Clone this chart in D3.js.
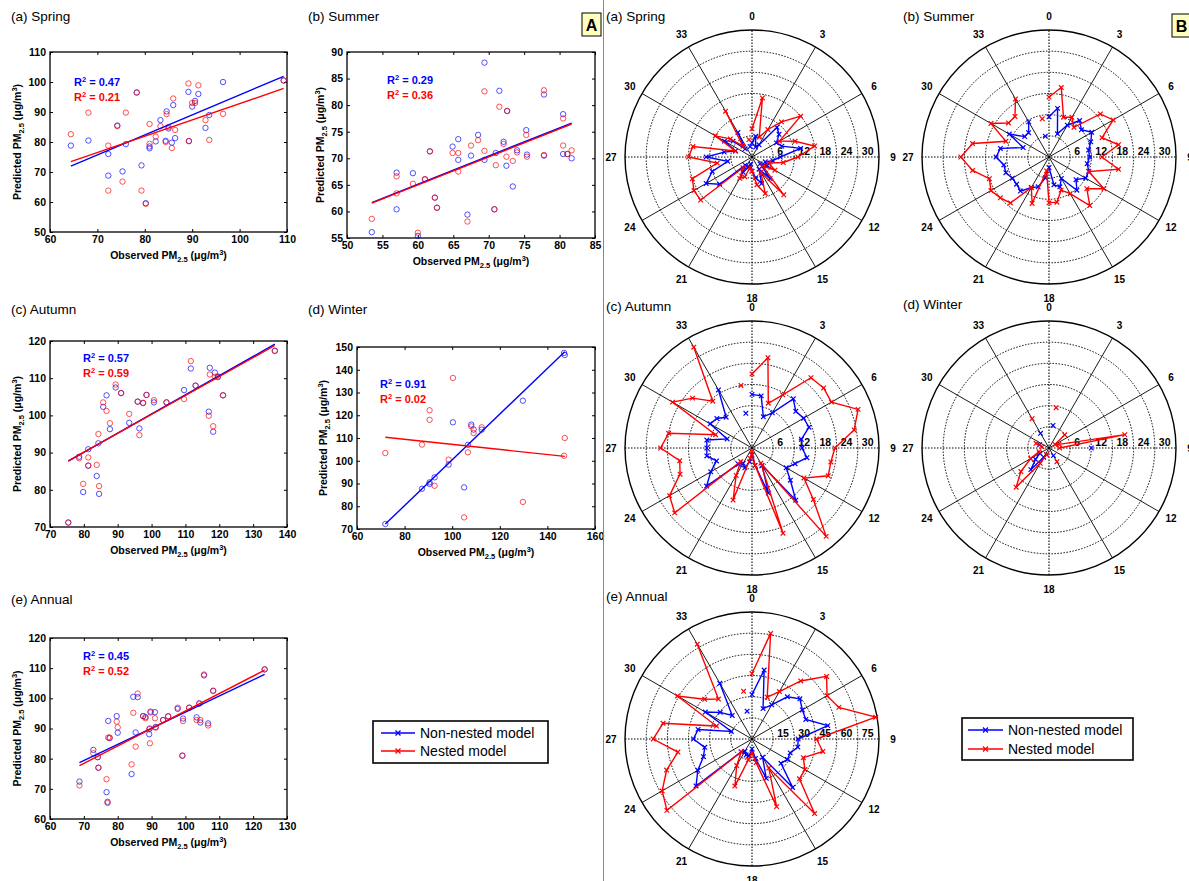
<!DOCTYPE html>
<html><head><meta charset="utf-8">
<script src="https://cdn.jsdelivr.net/npm/d3@7"></script>
<style>body{margin:0;background:#fff}svg{display:block;font-family:"Liberation Sans",Arial,sans-serif}</style>
</head><body>
<svg id="c" width="1189" height="881"></svg>
<script>
// ---------------- DATA ----------------
const seriesNames = ["Non-nested model", "Nested model"];
const seriesColors = ["#0000ff", "#ff0000"];

// Scatter: observed vs predicted PM2.5
const springObs = [64.4,68.1,72.3,72.3,74.2,75.3,78.3,76.0,79.3,80.2,81.0,81.0,82.3,83.3,84.6,84.4,85.0,85.7,86.0,86.4,89.2,89.3,90.0,90.6,91.3,92.8,93.6,96.5,109.3];
const springNonNested = [78.8,80.5,76.0,68.8,85.5,70.2,96.5,79.3,72.2,59.6,77.9,78.5,80.2,87.3,90.2,80.4,84.5,79.8,92.3,81.3,96.7,80.3,91.8,93.7,96.0,84.7,89.0,100.0,100.5];
const springNested = [82.6,89.8,78.8,63.8,85.3,66.8,96.5,89.8,63.8,59.4,86.0,79.4,81.8,85.3,89.3,80.0,85.0,78.0,94.5,84.0,99.5,80.3,93.0,93.0,98.9,87.3,80.7,89.4,100.5];
const springFitNonNested = [0.667, 29.0];
const springFitNested = [0.544, 38.4];
const springR2 = ["0.47", "0.21"];

const summerObs = [53.5,57.0,57.0,59.3,60.0,61.7,62.4,61.0,62.7,64.9,65.7,65.7,67.0,67.5,68.5,69.4,69.4,71.0,71.5,70.8,72.1,72.6,72.5,73.4,74.0,75.3,75.4,77.8,77.8,80.5,80.5,81.1,81.7];
const summerNonNested = [56.1,67.3,60.4,67.2,55.4,71.3,62.6,66.0,60.7,72.2,73.6,69.7,59.4,70.5,74.4,88.0,69.7,71.0,82.7,60.4,73.1,78.9,68.6,64.7,71.5,75.3,70.7,82.0,70.5,78.3,70.8,70.8,70.0];
const summerNested = [58.6,66.6,63.4,65.2,56.0,71.3,62.6,66.1,60.7,71.0,71.0,67.5,58.1,72.4,73.4,82.6,71.4,68.7,79.7,60.4,72.7,78.9,70.3,69.5,71.1,74.4,70.3,82.8,70.6,77.5,72.4,70.8,71.5];
const summerFitNonNested = [0.531, 33.25];
const summerFitNested = [0.528, 33.3];
const summerR2 = ["0.29", "0.36"];

const autumnObs = [75.4,78.6,79.8,81.3,81.3,83.8,84.5,84.3,85.7,86.7,87.7,89.4,91.0,93.4,95.9,96.4,97.5,98.5,100.7,104.4,109.6,111.6,113.0,117.2,116.9,118.2,118.7,119.6,121.1,136.4];
const autumnNonNested = [71.2,88.9,79.4,90.9,86.5,83.7,78.9,92.5,102.3,105.4,96.3,107.5,106.0,98.0,103.7,96.5,103.3,105.5,103.5,103.5,106.8,112.6,108.0,112.8,101.0,95.6,111.5,110.3,105.4,117.4];
const autumnNested = [71.2,88.5,81.6,88.7,86.5,86.7,81.0,95.0,103.5,101.2,97.9,108.3,106.0,100.4,103.7,94.7,103.4,105.5,104.1,103.5,104.4,114.6,108.0,111.0,99.9,97.1,110.4,110.5,105.4,117.3];
const autumnFitNonNested = [0.515, 48.9];
const autumnFitNested = [0.508, 49.5];
const autumnR2 = ["0.57", "0.59"];

const winterObs = [71.9,87.3,90.5,90.5,92.6,98.5,100.3,105.0,106.6,108.0,109.0,112.4,129.7,147.0,147.3];
const winterNonNested = [72.2,87.7,90.5,89.8,92.7,98.3,116.9,88.3,107.0,115.9,113.7,113.7,126.4,147.4,146.5];
const winterNested = [103.4,107.1,122.2,118.0,89.0,100.5,136.4,75.1,103.7,115.1,112.2,114.7,81.9,102.2,110.0];
const winterFitNonNested = [1.005, -0.1];
const winterFitNested = [-0.112, 118.4];
const winterR2 = ["0.91", "0.02"];

const annualObs = [68.7,72.8,74.1,74.3,76.7,77.0,77.2,77.6,79.7,80.0,84.6,85.9,84.1,85.3,87.5,88.2,89.3,89.5,89.7,91.0,91.2,93.4,94.9,97.7,99.1,99.3,101.1,103.3,104.1,104.4,105.5,106.7,108.2,123.4];
const annualNonNested = [72.4,82.9,80.5,77.0,68.9,65.7,92.5,86.8,94.1,88.6,100.5,100.4,74.9,88.7,94.1,93.8,88.1,90.0,95.6,95.4,90.5,92.8,94.0,96.5,81.0,93.3,96.9,93.7,98.3,92.0,107.6,91.7,102.5,109.6];
const annualNested = [71.1,81.8,80.5,77.0,73.2,65.3,87.0,87.0,92.3,90.4,95.2,101.6,78.1,84.0,94.1,93.4,89.8,85.1,95.3,93.4,90.3,92.8,94.1,96.9,81.0,92.5,96.9,92.8,98.3,92.8,107.9,91.0,102.5,109.6];
const annualFitNonNested = [0.535, 41.9];
const annualFitNested = [0.579, 37.9];
const annualR2 = ["0.45", "0.52"];

// Polar: direction index 0..35 (x10 degrees)
const directionLabels = [0,3,6,9,12,15,18,21,24,27,30,33];
const seasonRings = [6,12,18,24,30,36];
const annualRings = [15,30,45,60,75,90];

const springDirNonNested = [4,6,3,4,11,10,8,9,14,8,6,4,5,3,8,4,8,6,4,2,3,5,3,12,15,12,7,13,8,5,9,7,3,8,null,3];
const springDirNested = [8,17,6,9,13,18,9,13,18,13,9,5,7.5,4,14,5,11,8,4,3,6,7,4,19,19,18,10,18,17,5,12,8,4,15,null,5];
const summerDirNonNested = [11.4,14,7,10.4,13.5,12,14,12.6,11.4,11.5,11,12,12,10,12.3,7,9,8,3,6,9,10,12.6,12,12,13,13,15,14,7.8,13,9,9,11.5,null,6];
const summerDirNested = [17,20,12,13,11,19,21,16,20,15,20,12,18,14,18,12,10,13,13,4,14,10,17,18,19,18,22,25,22,13,19,15,15,19,null,11];
const autumnDirNonNested = [15.2,15,9.4,11.5,18.2,16.2,16.9,17.2,14.2,14.2,15.8,13,11.2,14.2,19.3,5.7,13.6,5,2,4,6,5,6,16.8,13.5,10.7,13,12.8,13,7.5,13.7,13,11.4,19,null,10];
const autumnDirNested = [21,26,13.5,17.4,26,26.5,26,32,29.4,23.5,22.7,23,17,22.7,32.7,5,25.7,5,1,3,15.7,9,5,28.6,27,21.7,20.8,25.9,24,11,26,22,17.3,33,null,18];
const winterDirNonNested = [null,6.5,null,null,null,null,null,null,null,12,null,null,null,null,null,2.5,null,null,null,null,2,3,8,5,3,null,null,null,null,2.8,null,null,null,4.8,null,null];
const winterDirNested = [null,11.6,null,null,null,5.8,2,3,21.8,3,null,null,null,null,null,4.5,null,null,null,null,2,5,14.5,10.4,6,3,null,null,2,3.9,null,null,null,9.6,null,null];
const annualDirNonNested = [31.5,49.6,22.9,28,39,44.3,41.2,40.6,54.5,32.7,33,28.8,29,26.8,44.8,15,29.6,14,7,12,12,10,12,51.8,44.3,36.6,34,41.5,38.8,15.6,38.2,29.4,21.8,45.6,null,20];
const annualDirNested = [46.4,76,31.5,38.8,53.7,69,61.4,65.5,89,45.7,51,38.7,43.3,43.9,69,23.8,51,17,10,15,35.5,21.7,12,78.7,73.5,64.4,53.3,70,64,26.8,61,43.8,37,77.6,null,34.3];

// ---------------- DRAWING ----------------
const svg = d3.select("#c");
svg.append("rect").attr("width",1189).attr("height",881).attr("fill","#fff");

function pmLabel(t, prefix) {
  t.append("tspan").text(prefix + " PM");
  t.append("tspan").attr("dy", 3).attr("font-size", 7.5).text("2.5");
  t.append("tspan").attr("dy", -3).text(" (\u03bcg/m");
  t.append("tspan").attr("dy", -4).attr("font-size", 7.5).text("3");
  t.append("tspan").attr("dy", 4).text(")");
}

function scatterPanel(p) {
  const g = svg.append("g");
  const x = d3.scaleLinear().domain(p.xDomain).range([p.left, p.right]);
  const y = d3.scaleLinear().domain(p.yDomain).range([p.bottom, p.top]);
  g.append("text").attr("x", p.titleX).attr("y", p.titleY).attr("font-size", 13.5).text(p.title);

  const styleAxis = sel => {
    sel.select(".domain").remove();
    sel.selectAll("line").attr("stroke", "#000");
    sel.selectAll("text").attr("font-size", 10.5).attr("font-weight", "bold")
      .attr("font-family", '"Liberation Sans",Arial,sans-serif').attr("fill", "#000");
  };
  g.append("g").attr("transform", `translate(0,${p.bottom})`)
    .call(d3.axisBottom(x).tickValues(p.xTicks).tickSizeInner(-3).tickSizeOuter(0).tickPadding(4)).call(styleAxis);
  g.append("g").attr("transform", `translate(${p.left},0)`)
    .call(d3.axisLeft(y).tickValues(p.yTicks).tickSizeInner(-3).tickSizeOuter(0).tickPadding(4)).call(styleAxis);
  g.append("g").attr("transform", `translate(0,${p.top})`)
    .call(d3.axisTop(x).tickValues(p.xTicks).tickSizeInner(-3).tickSizeOuter(0).tickFormat("")).call(styleAxis);
  g.append("g").attr("transform", `translate(${p.right},0)`)
    .call(d3.axisRight(y).tickValues(p.yTicks).tickSizeInner(-3).tickSizeOuter(0).tickFormat("")).call(styleAxis);
  g.append("rect").attr("x", p.left).attr("y", p.top).attr("width", p.right - p.left).attr("height", p.bottom - p.top)
    .attr("fill", "none").attr("stroke", "#000").attr("stroke-width", 1.3);

  const series = [p.blue, p.red];
  series.forEach((vals, si) => {
    g.append("g").selectAll("circle").data(p.obs.map((o, i) => [o, vals[i]])).join("circle")
      .attr("cx", d => x(d[0])).attr("cy", d => y(d[1])).attr("r", 2.7)
      .attr("fill", "none").attr("stroke", seriesColors[si]).attr("stroke-width", 0.8).attr("opacity", 0.85);
  });
  const ext = d3.extent(p.obs);
  [p.fitBlue, p.fitRed].forEach((f, si) => {
    const pts = ext.map(v => [v, f[0] * v + f[1]]);
    g.append("path").attr("d", d3.line().x(d => x(d[0])).y(d => y(d[1]))(pts))
      .attr("stroke", seriesColors[si]).attr("stroke-width", 1.4).attr("fill", "none");
  });
  p.r2.forEach((v, si) => {
    const t = g.append("text").attr("x", p.r2X).attr("y", p.r2Y + si * 15).attr("font-size", 11)
      .attr("font-weight", "bold").attr("fill", seriesColors[si]);
    t.append("tspan").text("R");
    t.append("tspan").attr("dy", -4).attr("font-size", 7.5).text("2");
    t.append("tspan").attr("dy", 4).text(" = " + v);
  });
  const xl = g.append("text").attr("x", (p.left + p.right) / 2).attr("y", p.bottom + p.xLabelDy)
    .attr("text-anchor", "middle").attr("font-size", 10.5).attr("font-weight", "bold");
  pmLabel(xl, "Observed");
  const yl = g.append("text").attr("transform", `translate(${p.yLabelX},${(p.top + p.bottom) / 2}) rotate(-90)`)
    .attr("text-anchor", "middle").attr("font-size", 10.5).attr("font-weight", "bold");
  pmLabel(yl, "Predicted");
}

scatterPanel({title:"(a) Spring", titleX:11, titleY:21, left:50, right:287, top:52, bottom:232,
  xDomain:[60,110], yDomain:[50,110], xTicks:d3.range(60,111,10), yTicks:d3.range(50,111,10),
  obs:springObs, blue:springNonNested, red:springNested, fitBlue:springFitNonNested, fitRed:springFitNested,
  r2:springR2, r2X:74, r2Y:86, xLabelDy:27, yLabelX:21});
scatterPanel({title:"(b) Summer", titleX:308, titleY:21, left:347, right:595, top:52, bottom:238,
  xDomain:[50,85], yDomain:[55,90], xTicks:d3.range(50,86,5), yTicks:d3.range(55,91,5),
  obs:summerObs, blue:summerNonNested, red:summerNested, fitBlue:summerFitNonNested, fitRed:summerFitNested,
  r2:summerR2, r2X:387, r2Y:84, xLabelDy:27, yLabelX:324});
scatterPanel({title:"(c) Autumn", titleX:11, titleY:314, left:50, right:287, top:341, bottom:527,
  xDomain:[70,140], yDomain:[70,120], xTicks:d3.range(70,141,10), yTicks:d3.range(70,121,10),
  obs:autumnObs, blue:autumnNonNested, red:autumnNested, fitBlue:autumnFitNonNested, fitRed:autumnFitNested,
  r2:autumnR2, r2X:83, r2Y:362, xLabelDy:27, yLabelX:21});
scatterPanel({title:"(d) Winter", titleX:308, titleY:314, left:357, right:595, top:347, bottom:529,
  xDomain:[60,160], yDomain:[70,150], xTicks:d3.range(60,161,20), yTicks:d3.range(70,151,10),
  obs:winterObs, blue:winterNonNested, red:winterNested, fitBlue:winterFitNonNested, fitRed:winterFitNested,
  r2:winterR2, r2X:380, r2Y:388, xLabelDy:27, yLabelX:327});
scatterPanel({title:"(e) Annual", titleX:11, titleY:604, left:50, right:287, top:638, bottom:819,
  xDomain:[60,130], yDomain:[60,120], xTicks:d3.range(60,131,10), yTicks:d3.range(60,121,10),
  obs:annualObs, blue:annualNonNested, red:annualNested, fitBlue:annualFitNonNested, fitRed:annualFitNested,
  r2:annualR2, r2X:83, r2Y:660, xLabelDy:27, yLabelX:21});

// ---- polar panels ----
const R = 127;
function polarPanel(p) {
  svg.append("text").attr("x", p.titleX).attr("y", p.titleY).attr("font-size", 13.5).text(p.title);
  const g = svg.append("g").attr("transform", `translate(${p.cx},${p.cy})`);
  const rMax = p.rings[p.rings.length - 1];
  const r = d3.scaleLinear().domain([0, rMax]).range([0, R]);
  p.rings.slice(0, -1).forEach(v => g.append("circle").attr("r", r(v)).attr("fill", "none")
    .attr("stroke", "#000").attr("stroke-width", 1).attr("stroke-dasharray", "1.5,1.5"));
  g.append("circle").attr("r", R).attr("fill", "none").attr("stroke", "#000").attr("stroke-width", 1.4);
  directionLabels.slice(0, 6).forEach(d => {
    const a = d * 10 * Math.PI / 180;
    const axisLine = d % 9 === 0;
    g.append("line").attr("x1", -R * Math.sin(a)).attr("y1", R * Math.cos(a))
      .attr("x2", R * Math.sin(a)).attr("y2", -R * Math.cos(a))
      .attr("stroke", "#000").attr("stroke-width", axisLine ? 1.1 : 0.9)
      .attr("stroke-dasharray", axisLine ? "1.5,1.5" : null);
  });
  directionLabels.forEach(d => {
    const a = d * 10 * Math.PI / 180;
    g.append("text").attr("x", (R + 14) * Math.sin(a)).attr("y", -(R + 14) * Math.cos(a))
      .attr("text-anchor", "middle").attr("dominant-baseline", "central")
      .attr("font-size", 10).attr("font-weight", "bold").text(d);
  });
  p.rings.slice(0, -1).forEach(v => g.append("text").attr("x", r(v) + 4).attr("y", -2)
    .attr("font-size", 10.5).attr("font-weight", "bold").text(v));
  [p.blue, p.red].forEach((vals, si) => {
    const pts = vals.map((v, i) => ({a: i * 10 * Math.PI / 180, v}));
    g.append("path").attr("d", d3.lineRadial().defined(d => d.v != null).angle(d => d.a).radius(d => r(d.v))(pts))
      .attr("fill", "none").attr("stroke", seriesColors[si]).attr("stroke-width", 1.4);
    g.append("g").selectAll("path").data(pts.filter(d => d.v != null)).join("path")
      .attr("transform", d => `translate(${r(d.v) * Math.sin(d.a)},${-r(d.v) * Math.cos(d.a)})`)
      .attr("d", "M-2.3,-2.3L2.3,2.3M-2.3,2.3L2.3,-2.3").attr("stroke", seriesColors[si]).attr("stroke-width", 1.2);
  });
}

polarPanel({title:"(a) Spring", titleX:606, titleY:21, cx:752, cy:157, rings:seasonRings, blue:springDirNonNested, red:springDirNested});
polarPanel({title:"(b) Summer", titleX:903, titleY:21, cx:1049, cy:157, rings:seasonRings, blue:summerDirNonNested, red:summerDirNested});
polarPanel({title:"(c) Autumn", titleX:606, titleY:311, cx:752, cy:448, rings:seasonRings, blue:autumnDirNonNested, red:autumnDirNested});
polarPanel({title:"(d) Winter", titleX:903, titleY:309, cx:1049, cy:448, rings:seasonRings, blue:winterDirNonNested, red:winterDirNested});
polarPanel({title:"(e) Annual", titleX:606, titleY:601, cx:752, cy:739, rings:annualRings, blue:annualDirNonNested, red:annualDirNested});

// ---- legends ----
function legend(x0, y0, w, h, rowY, lineX0, lineX1, textX) {
  svg.append("rect").attr("x", x0).attr("y", y0).attr("width", w).attr("height", h)
    .attr("fill", "#fff").attr("stroke", "#000").attr("stroke-width", 1.6);
  seriesNames.forEach((n, i) => {
    const yy = rowY[i];
    svg.append("line").attr("x1", lineX0).attr("x2", lineX1).attr("y1", yy).attr("y2", yy)
      .attr("stroke", seriesColors[i]).attr("stroke-width", 1.6);
    const mx = (lineX0 + lineX1) / 2;
    svg.append("path").attr("d", `M${mx-2.5},${yy-2.5}L${mx+2.5},${yy+2.5}M${mx-2.5},${yy+2.5}L${mx+2.5},${yy-2.5}`)
      .attr("stroke", seriesColors[i]).attr("stroke-width", 1.3);
    svg.append("text").attr("x", textX).attr("y", yy).attr("dominant-baseline", "central")
      .attr("font-size", 14).text(n);
  });
}
legend(373, 721, 175, 42, [733, 751], 381, 415, 420);
legend(962, 718, 171, 42, [730, 749], 968, 1003, 1008);

// divider and panel letters
svg.append("line").attr("x1", 603.5).attr("x2", 603.5).attr("y1", 0).attr("y2", 881).attr("stroke", "#888").attr("stroke-width", 1);
[[582, 13, "A"], [1172, 14, "B"]].forEach(([bx, by, t]) => {
  svg.append("rect").attr("x", bx).attr("y", by).attr("width", 19).attr("height", 23)
    .attr("fill", "#ffffc0").attr("stroke", "#000").attr("stroke-width", 1);
  svg.append("text").attr("x", bx + 9.5).attr("y", by + 18).attr("text-anchor", "middle")
    .attr("font-size", 16).attr("font-weight", "bold").text(t);
});
</script>
</body></html>
